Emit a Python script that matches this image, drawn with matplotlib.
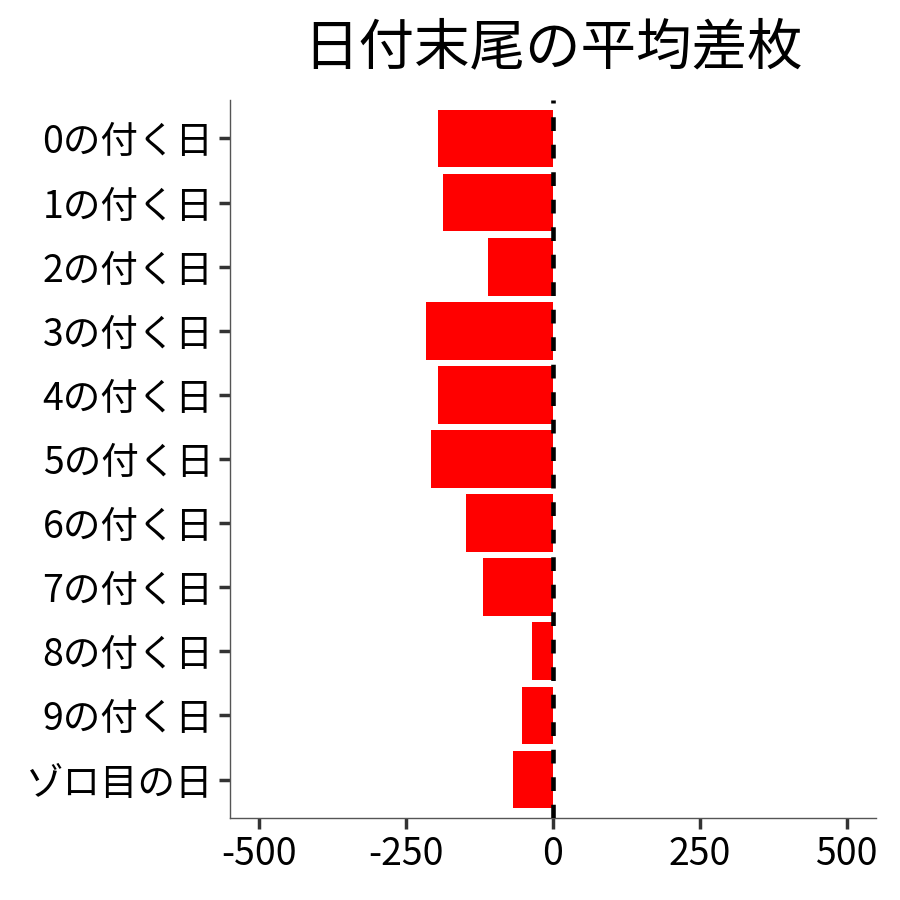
import matplotlib
matplotlib.use("Agg")
import matplotlib.pyplot as plt

plt.rcParams['font.family'] = ['Noto Sans CJK JP', 'DejaVu Sans']

labels = ['0の付く日', '1の付く日', '2の付く日', '3の付く日', '4の付く日', '5の付く日',
          '6の付く日', '7の付く日', '8の付く日', '9の付く日', 'ゾロ目の日']
values = [-195, -187, -110, -217, -195, -207, -148, -120, -35, -52, -68]
xticks = [-500, -250, 0, 250, 500]

fig = plt.figure(figsize=(9, 9), dpi=100)
ax = fig.add_axes([230 / 900, 82 / 900, 646 / 900, 718 / 900])

pos = list(range(len(labels)))
ax.barh(pos, values, height=0.9, color='#ff0000', zorder=2)
ax.axvline(0, color='black', lw=3.3, dashes=(3, 3), zorder=3)

ax.set_xlim(-550, 550)
ax.set_ylim(len(labels) - 0.4, -0.6)
ax.set_yticks(pos)
ax.set_yticklabels(labels)
ax.set_xticks(xticks)
ax.set_xticklabels([str(t) for t in xticks])

for s in ['top', 'right']:
    ax.spines[s].set_visible(False)
for s in ['left', 'bottom']:
    ax.spines[s].set_color('#555555')
    ax.spines[s].set_linewidth(1)
ax.tick_params(axis='both', colors='#333333', length=8, width=2.5, labelsize=27,
               labelcolor='black', pad=4)

fig.suptitle('日付末尾の平均差枚', x=553 / 900, y=0.978, fontsize=40, va='top')

fig.savefig('out.png', dpi=100)
